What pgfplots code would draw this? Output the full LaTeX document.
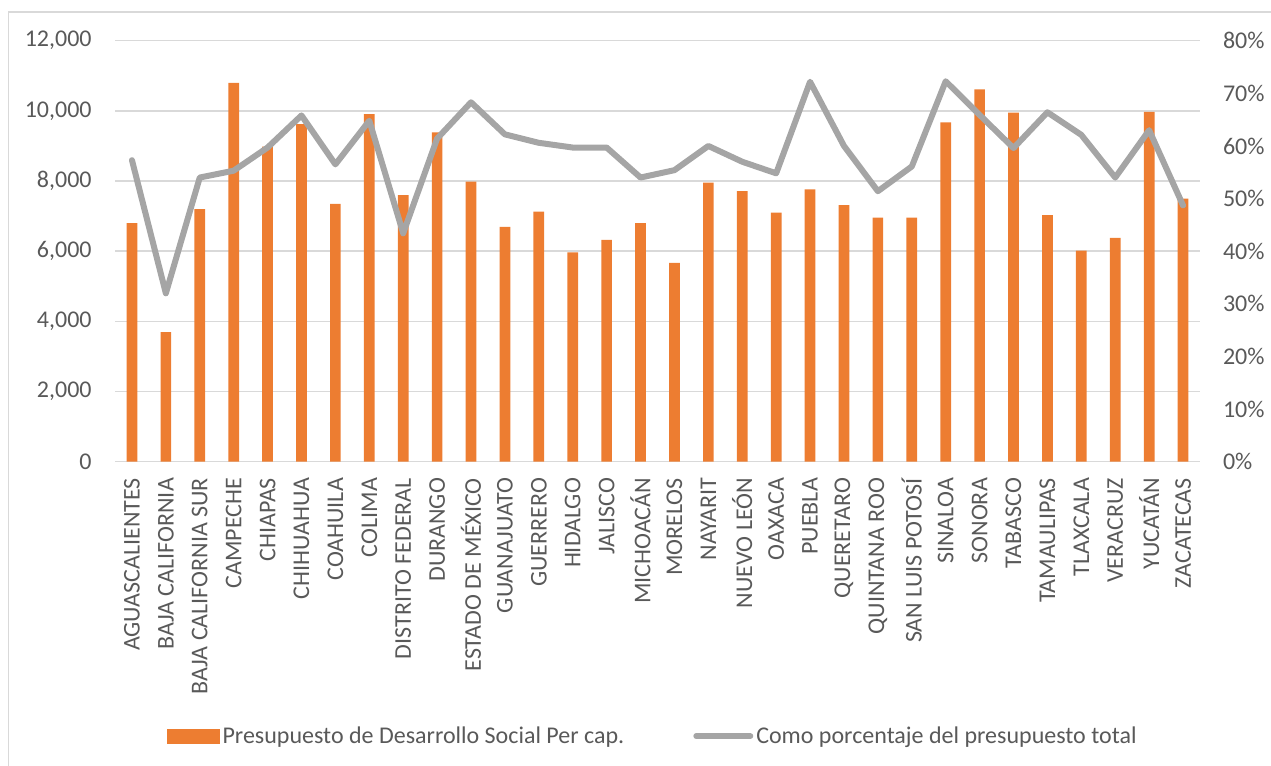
\documentclass[border=0pt]{standalone}
\usepackage{pgfplots}
\pgfplotsset{compat=1.18}
\usepackage{fontspec}
\setmainfont{Carlito}
\definecolor{orng}{HTML}{ED7D31}
\definecolor{lgray}{HTML}{A5A5A5}
\definecolor{gridc}{HTML}{D9D9D9}
\definecolor{txt}{HTML}{595959}
\newcommand{\chartfont}{\fontsize{12bp}{14bp}\selectfont}
\begin{document}
\begin{tikzpicture}
\useasboundingbox (0,0) rectangle (635.5bp,383bp);
\draw[color=gridc, line width=0.8bp] (4.3bp,-2bp) -- (4.3bp,377.1bp) -- (640bp,377.1bp);
\begin{axis}[
  scale only axis, width=542.5bp, height=210.5bp,
  at={(57.5bp,152.15bp)}, anchor=south west,
  xmin=-0.5, xmax=31.5, ymin=0, ymax=12000,
  axis line style={draw=none},
  major tick length=0pt,
  ytick={0,2000,...,12000},
  ymajorgrids, grid style={color=gridc, line width=0.75bp},
  xtick={0,...,31},
  xticklabels={AGUASCALIENTES,BAJA CALIFORNIA,BAJA CALIFORNIA SUR,CAMPECHE,CHIAPAS,CHIHUAHUA,COAHUILA,COLIMA,DISTRITO FEDERAL,DURANGO,ESTADO DE MÉXICO,GUANAJUATO,GUERRERO,HIDALGO,JALISCO,MICHOACÁN,MORELOS,NAYARIT,NUEVO LEÓN,OAXACA,PUEBLA,QUERETARO,QUINTANA ROO,SAN LUIS POTOSÍ,SINALOA,SONORA,TABASCO,TAMAULIPAS,TLAXCALA,VERACRUZ,YUCATÁN,ZACATECAS},
  xticklabel style={rotate=90, anchor=east, font=\chartfont, text=txt, inner sep=0pt, xshift=-8bp},
  yticklabel style={anchor=east, font=\chartfont, text=txt, inner sep=0pt, xshift=-11.5bp},
  /pgf/number format/assume math mode=true,
  /pgf/number format/1000 sep={,},
  scaled y ticks=false,
  clip=false,
]
\addplot[ybar, bar width=5.35bp, fill=orng, draw=none] coordinates {
(0,6800)(1,3690)(2,7200)(3,10800)(4,8980)(5,9620)(6,7350)(7,9910)
(8,7600)(9,9390)(10,7980)(11,6690)(12,7130)(13,5970)(14,6320)(15,6800)
(16,5665)(17,7955)(18,7710)(19,7100)(20,7765)(21,7310)(22,6960)(23,6960)
(24,9675)(25,10615)(26,9950)(27,7025)(28,6015)(29,6380)(30,9970)(31,7500)};
\end{axis}
\begin{axis}[
  scale only axis, width=542.5bp, height=210.5bp,
  at={(57.5bp,152.15bp)}, anchor=south west,
  xmin=-0.5, xmax=31.5, ymin=0, ymax=80,
  axis y line*=right, axis x line=none,
  axis line style={draw=none},
  major tick length=0pt,
  ytick={0,10,...,80},
  yticklabel={\pgfmathprintnumber{\tick}\%},
  yticklabel style={anchor=west, font=\chartfont, text=txt, inner sep=0pt, xshift=11.3bp},
  /pgf/number format/assume math mode=true,
  clip=false,
  legend style={at={(0.496,-0.652)}, anchor=center, draw=none, fill=none,
    legend columns=2, font=\chartfont, text=txt, inner sep=0pt,
    nodes={inner sep=1.5bp},
    /tikz/every even column/.append style={column sep=33bp}},
]
\addlegendimage{legend image code/.code={\fill[orng] (0bp,-3.5bp) rectangle (26bp,3.5bp);}}
\addplot[color=lgray, line width=3bp, line join=round, line cap=round,
  legend image code/.code={\draw[lgray, line width=3bp, line cap=round] (0bp,0bp) -- (27bp,0bp);}] coordinates {
(0,57.3)(1,32.0)(2,54.0)(3,55.3)(4,59.7)(5,65.8)(6,56.5)(7,64.8)
(8,43.4)(9,61.4)(10,68.3)(11,62.2)(12,60.6)(13,59.7)(14,59.7)(15,54.0)
(16,55.4)(17,60.0)(18,57.0)(19,54.8)(20,72.2)(21,60.0)(22,51.4)(23,56.1)
(24,72.3)(25,65.9)(26,59.6)(27,66.4)(28,62.1)(29,54.0)(30,63.0)(31,48.7)};
\legend{Presupuesto de Desarrollo Social Per cap.,Como porcentaje del presupuesto total}
\end{axis}
\end{tikzpicture}
\end{document}
